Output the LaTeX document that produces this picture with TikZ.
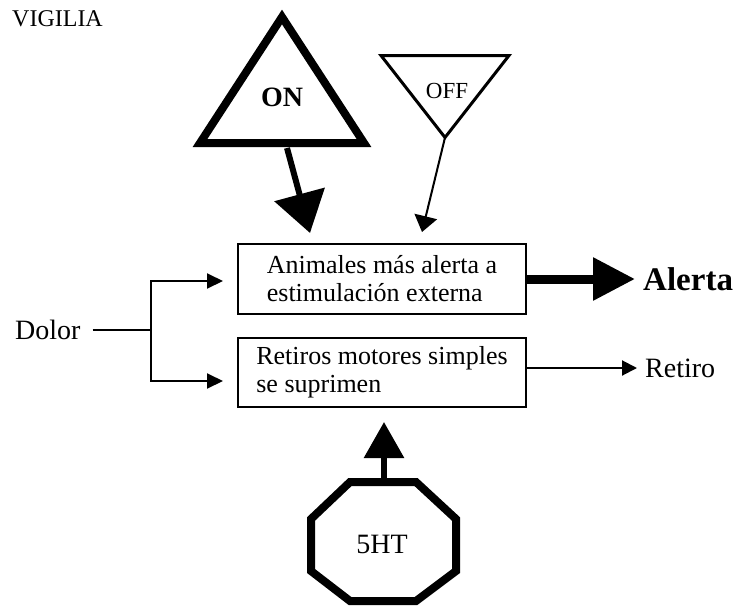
\documentclass[tikz,border=0pt]{standalone}
\usepackage{fontspec}
\setmainfont{Liberation Serif}
\usetikzlibrary{arrows.meta}
\begin{document}
\begin{tikzpicture}[x=1pt,y=-1pt,
  lbl/.style={inner sep=0pt},
  boxnode/.style={draw,line width=2pt,minimum width=288pt,minimum height=70pt,align=left,inner sep=0pt,font=\fontsize{26}{28}\selectfont},
  thinline/.style={line width=2pt},
  thinarrow/.style={line width=2pt,-{Triangle[length=16pt,width=15pt]}}
]
\useasboundingbox (0,0) rectangle (738,613);

\node[lbl,anchor=base west,font=\fontsize{24}{28}\selectfont] (vig) at (12,27) {VIGILIA};

% ON triangle
\coordinate (onA) at (282,17);
\coordinate (onL) at (200,143);
\coordinate (onR) at (364,143);
\draw[line width=8pt] (onA) -- (onR) -- (onL) -- cycle;
\node[font=\bfseries\fontsize{28}{30}\selectfont] (on) at (282,97.5) {ON};

% OFF triangle
\coordinate (offL) at (381,55.5);
\coordinate (offR) at (509,55.5);
\coordinate (offA) at (445,137.5);
\draw[line width=3pt] (offL) -- (offR) -- (offA) -- cycle;
\node[font=\fontsize{23}{26}\selectfont] (off) at (447,91) {OFF};

% boxes
\node[boxnode] (b1) at (382,279) {Animales más alerta a\\estimulación externa};
\node[boxnode,minimum height=69pt] (b2) at (382,372.5) {Retiros motores simples\\se suprimen};

% ON and OFF arrows
\coordinate (onbase) at (287,148);
\coordinate (onend) at (310,233);
\draw[line width=6pt,-{Triangle[length=40pt,width=51pt]}] (onbase) -- (onend);
\coordinate (offend) at (422,232);
\draw[line width=2pt,-{Triangle[length=16pt,width=23pt]}] (offA) -- (offend);

% Dolor
\node[lbl,anchor=west,font=\fontsize{28}{30}\selectfont] (dolor) at (15,330) {Dolor};
\coordinate (split) at (151,330);
\coordinate (d1) at (223,281);
\coordinate (d2) at (223,381);
\draw[thinline,shorten <=12pt] (dolor.east) -- (split);
\draw[thinarrow] (split) |- (d1);
\draw[thinarrow] (split) |- (d2);

% Alerta
\node[lbl,anchor=west,font=\bfseries\fontsize{33}{36}\selectfont] (alerta) at (643,279) {Alerta};
\draw[line width=9pt,-{Triangle[length=42pt,width=41pt]},shorten >=8pt] (b1.east) -- (alerta.west);

% Retiro
\node[lbl,anchor=west,font=\fontsize{28}{30}\selectfont] (retiro) at (645,368) {Retiro};
\draw[line width=2pt,-{Triangle[length=15pt,width=15pt]},shorten >=8pt] (b2.east |- retiro.west) -- (retiro.west);

% 5HT octagon
\draw[line width=8pt] (350,482) -- (416,482) -- (456,519) -- (456,571) -- (416,601) -- (350,601) -- (311,571) -- (311,519) -- cycle;
\node[font=\fontsize{28}{30}\selectfont] (ht) at (382,544) {5HT};
\coordinate (httop) at (384,478);
\coordinate (htend) at (384,422);
\draw[line width=6pt,-{Triangle[length=36pt,width=39pt]}] (httop) -- (htend);
\end{tikzpicture}
\end{document}
